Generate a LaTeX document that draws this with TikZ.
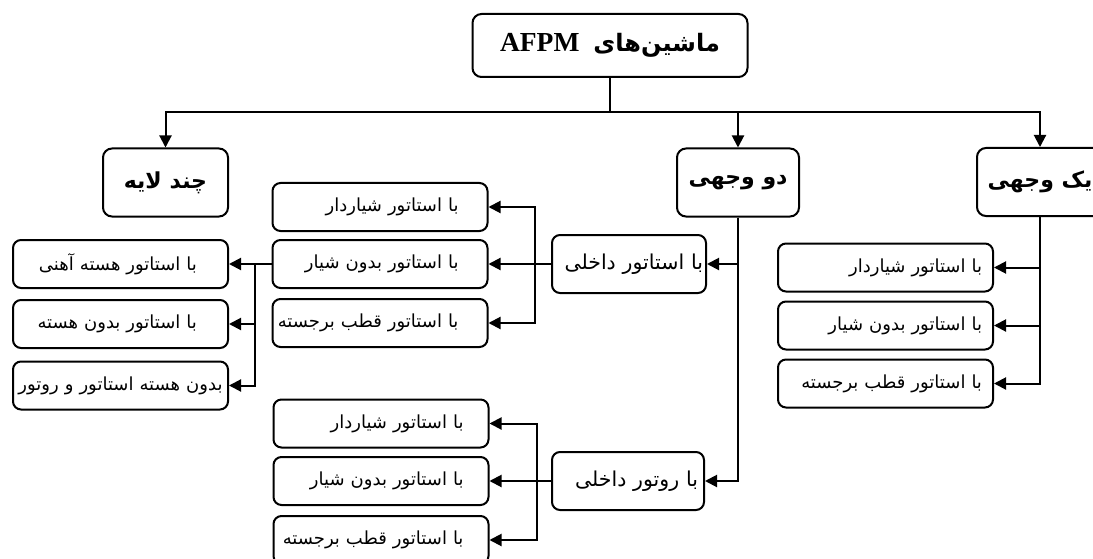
\documentclass[tikz,border=0pt]{standalone}
\usepackage{fontspec}
\setmainfont{Liberation Serif}
\newfontfamily\farsi[Script=Arabic]{DejaVu Sans}
\TeXXeTstate=1
\usepackage{tikz}
\usetikzlibrary{arrows.meta}

\tikzset{
  mainbox/.style={draw, rounded corners=9pt, minimum height=68pt, inner sep=2pt,
    font=\farsi\bfseries\fontsize{22}{26}\selectfont},
  midbox/.style={draw, rounded corners=8pt, minimum height=58pt, inner xsep=2pt,
    text width=150pt, align=right, font=\farsi\fontsize{20.5}{25}\selectfont},
  subbox/.style={draw, rounded corners=8pt, minimum height=48pt, inner xsep=2pt,
    text width=211pt, align=right, font=\farsi\fontsize{18}{22}\selectfont}
}

\begin{document}
\begin{tikzpicture}[x=1pt, y=-1pt, line width=2pt, >={Triangle[length=12pt,width=12pt]}]
  \useasboundingbox (0,0) rectangle (1093,559);

  % Draw the root
  \node[mainbox, minimum width=275pt, minimum height=63pt,
    font=\farsi\bfseries\fontsize{24}{30}\selectfont] (root) at (610,45.5)
    {\beginR ماشین‌های\hspace{14pt}\beginL{\rmfamily\bfseries\fontsize{27.5}{30}\selectfont AFPM}\endL\endR};

  % Draw the three families
  \node[mainbox, minimum width=125pt] (chand) at (165.5,182.5) {\beginR چند لایه\endR};
  \node[mainbox, minimum width=122pt] (do) at (738,182.5) {\beginR دو وجهی\endR};
  \node[mainbox, minimum width=126pt] (yek) at (1040,182) {\beginR یک وجهی\endR};

  % Single sided
  \node[subbox] (yekA) at (885.5,267.5) {\beginR با استاتور شیاردار\endR\kern9pt};
  \node[subbox] (yekB) at (885.5,325.5) {\beginR با استاتور بدون شیار\endR\kern9pt};
  \node[subbox] (yekC) at (885.5,383.5) {\beginR با استاتور قطب برجسته\endR\kern9pt};

  % Double sided
  \node[midbox] (statorin) at (629,264) {\beginR با استاتور داخلی\endR\kern1pt};
  \node[midbox, text width=148pt] (rotorin) at (628,481) {\beginR با روتور داخلی\endR\kern4pt};

  \node[subbox] (stA) at (380,207) {\beginR با استاتور شیاردار\endR\kern27pt};
  \node[subbox] (stB) at (380,264) {\beginR با استاتور بدون شیار\endR\kern27pt};
  \node[subbox] (stC) at (380,323) {\beginR با استاتور قطب برجسته\endR\kern27pt};

  \node[subbox] (rtA) at (381,423.5) {\beginR با استاتور شیاردار\endR\kern23pt};
  \node[subbox] (rtB) at (381,481) {\beginR با استاتور بدون شیار\endR\kern23pt};
  \node[subbox] (rtC) at (381,540) {\beginR با استاتور قطب برجسته\endR\kern23pt};

  % Multi layer
  \node[subbox] (mlA) at (120.5,264) {\beginR با استاتور هسته آهنی\endR\kern29pt};
  \node[subbox] (mlB) at (120.5,324) {\beginR با استاتور بدون هسته\endR\kern29pt};
  \node[subbox, align=center] (mlC) at (120.5,385.5) {\beginR بدون هسته استاتور و روتور\endR};

  % Bars for the branches
  \coordinate (bus) at (0,112);
  \coordinate (sbar) at (535,0);
  \coordinate (rbar) at (537,0);
  \coordinate (mbar) at (255,0);

  % Draw the root connectors
  \draw (root.south) -- (root.south |- bus);
  \draw[->] (root.south |- bus) -| (chand.north);
  \draw[->] (root.south |- bus) -| (yek.north);
  \draw[->] (do.north |- bus) -- (do.north);

  \draw[->] (yek.south) |- (yekA.east);
  \draw[->] (yek.south) |- (yekB.east);
  \draw[->] (yek.south) |- (yekC.east);

  \draw[->] (do.south) |- (statorin.east);
  \draw[->] (do.south) |- (rotorin.east);

  \draw[->] (statorin.west) -- (stB.east);
  \draw[->] (sbar |- statorin.west) |- (stA.east);
  \draw[->] (sbar |- statorin.west) |- (stC.east);

  \draw[->] (rotorin.west) -- (rtB.east);
  \draw[->] (rbar |- rotorin.west) |- (rtA.east);
  \draw[->] (rbar |- rotorin.west) |- (rtC.east);

  \draw[->] (stB.west) -- (mlA.east);
  \draw[->] (mbar |- stB.west) |- (mlB.east);
  \draw[->] (mbar |- stB.west) |- (mlC.east);
\end{tikzpicture}
\end{document}
